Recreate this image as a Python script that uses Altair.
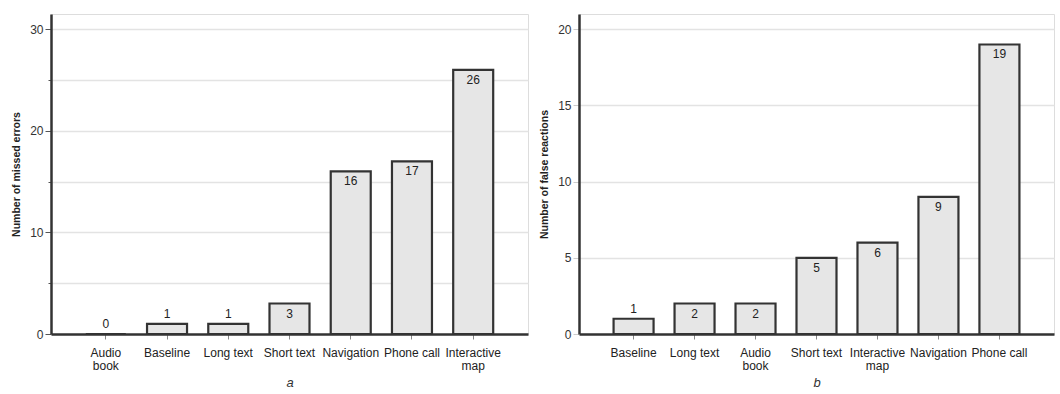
import altair as alt
import pandas as pd

cats_a = ["Audio book", "Baseline", "Long text", "Short text", "Navigation", "Phone call", "Interactive map"]
vals_a = [0, 1, 1, 3, 16, 17, 26]
cats_b = ["Baseline", "Long text", "Audio book", "Short text", "Interactive map", "Navigation", "Phone call"]
vals_b = [1, 2, 2, 5, 6, 9, 19]

ticks_a = [0, 5, 10, 15, 20, 25, 30]
ticks_b = [0, 2.5, 5, 7.5, 10, 12.5, 15, 17.5, 20]

FONT = "Liberation Sans"
label_expr = ("datum.label == 'Audio book' ? ['Audio', 'book'] : "
              "datum.label == 'Interactive map' ? ['Interactive', 'map'] : datum.label")


def panel(cats, vals, ymax, yticks, major, ytitle, caption, width, ytick_color):
    df = pd.DataFrame({"cat": cats, "val": vals})
    x = alt.X("cat:N", sort=cats, title=caption,
              scale=alt.Scale(paddingInner=0.35, paddingOuter=0.57),
              axis=alt.Axis(labelAngle=0, labelExpr=label_expr, labelFont=FONT, labelFontSize=12,
                            labelColor="#222", tickColor="#888", tickSize=5, tickWidth=1,
                            domainColor="#333", domainWidth=2.5, labelPadding=8, labelLineHeight=13,
                            titleFont=FONT, titleFontStyle="italic", titleFontWeight="normal",
                            titleFontSize=13, titleColor="#333", titlePadding=5))
    y = alt.Y("val:Q", title=ytitle,
              scale=alt.Scale(domain=[0, ymax], nice=False, zero=True),
              axis=alt.Axis(values=yticks, labelExpr=f"datum.value % {major} == 0 ? datum.label : ''",
                            tickSize={"condition": {"test": f"datum.value % {major} == 0", "value": 6}, "value": 3},
                            gridColor="#e3e3e3", gridWidth=1.5, tickColor=ytick_color, tickWidth=1,
                            domainColor="#333", domainWidth=2.5, labelFont=FONT, labelFontSize=12,
                            labelColor="#333", labelPadding=2, titleFont=FONT, titleFontSize=10.5,
                            titleFontWeight="bold", titleColor="#222", titlePadding=8))
    base = alt.Chart(df)
    bars = base.mark_bar(fill="#e6e6e6", stroke="#333", strokeWidth=2.2, size=40).encode(x=x, y=y)
    inside = base.transform_filter("datum.val > 1").mark_text(
        baseline="top", dy=5, font=FONT, fontSize=12, fill="#222").encode(
        x=alt.X("cat:N", sort=cats), y="val:Q", text="val:Q")
    above = base.transform_filter("datum.val <= 1").mark_text(
        baseline="bottom", dy=-3, font=FONT, fontSize=12, fill="#222").encode(
        x=alt.X("cat:N", sort=cats), y="val:Q", text="val:Q")
    return alt.layer(bars, inside, above).properties(width=width, height=320)


a = panel(cats_a, vals_a, 31.5, ticks_a, 10, "Number of missed errors", "a", 477, "#555")
b = panel(cats_b, vals_b, 21, ticks_b, 5, "Number of false reactions", "b", 475, "#ccc")

chart = alt.hconcat(a, b, spacing=10).properties(
    padding={"left": 11, "top": 13, "right": 0, "bottom": 0}
).configure_view(stroke="#333", strokeWidth=2.5).configure(background="white")

chart.save("out.html", embed_options={"renderer": "svg", "actions": False})
